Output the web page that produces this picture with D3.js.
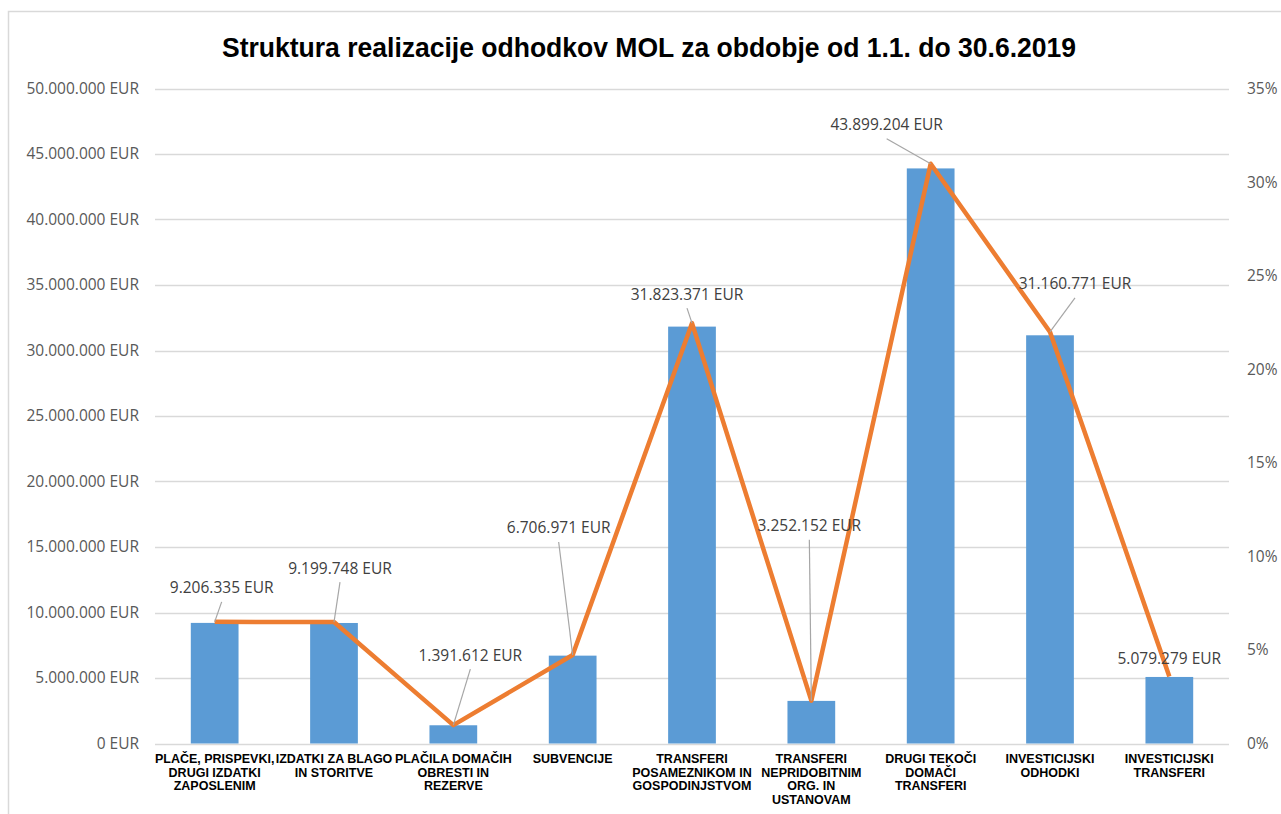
<!DOCTYPE html>
<html>
<head>
<meta charset="utf-8">
<script src="https://cdn.jsdelivr.net/npm/d3@7"></script>
<style>
  body { margin: 0; background: #ffffff; }
  svg { display: block; }
</style>
</head>
<body>
<svg id="chart"></svg>
<script>
let width = 1281;
let height = 814;

// data
let categories = [
  ["PLAČE, PRISPEVKI,", "DRUGI IZDATKI", "ZAPOSLENIM"],
  ["IZDATKI ZA BLAGO", "IN STORITVE"],
  ["PLAČILA DOMAČIH", "OBRESTI IN", "REZERVE"],
  ["SUBVENCIJE"],
  ["TRANSFERI", "POSAMEZNIKOM IN", "GOSPODINJSTVOM"],
  ["TRANSFERI", "NEPRIDOBITNIM", "ORG. IN", "USTANOVAM"],
  ["DRUGI TEKOČI", "DOMAČI", "TRANSFERI"],
  ["INVESTICIJSKI", "ODHODKI"],
  ["INVESTICIJSKI", "TRANSFERI"],
];
let amounts = [9206335, 9199748, 1391612, 6706971, 31823371, 3252152, 43899204, 31160771, 5079279];
let shares = [6.5, 6.49, 0.98, 4.73, 22.46, 2.29, 30.98, 21.99, 3.58];
let amountTicks = [0, 5e6, 10e6, 15e6, 20e6, 25e6, 30e6, 35e6, 40e6, 45e6, 50e6];
let shareTicks = [0, 5, 10, 15, 20, 25, 30, 35];
let title = "Struktura realizacije odhodkov MOL za obdobje od 1.1. do 30.6.2019";

// where each data label sits relative to its line point (px)
let labelShift = [
  [7, -34], [6, -54], [17, -70], [-14, -127], [-5, -29],
  [-2, -175], [-44, -39], [25, -48], [0, -18],
];

const blue = "#5B9BD5";
const orange = "#ED7D31";
const grid = "#d9d9d9";
const textColor = "#595959";
const bodyFont = "'Open Sans', 'Noto Sans', sans-serif";

let eur = d3.formatLocale({ decimal: ",", thousands: ".", grouping: [3], currency: ["", " EUR"] });
let fmt = (v) => eur.format(",d")(v) + " EUR";

let plot = { left: 155, right: 1229, top: 88.5, bottom: 743.5 };

let svg = d3.select("svg#chart").attr("width", width).attr("height", height);

let x = d3
  .scaleBand()
  .domain(d3.range(categories.length))
  .range([plot.left, plot.right])
  .paddingInner(0.6)
  .paddingOuter(0.3);
let yAmount = d3.scaleLinear().domain([0, 50e6]).range([plot.bottom, plot.top]);
let yShare = d3.scaleLinear().domain([0, 35]).range([plot.bottom, plot.top]);

// chart border
svg
  .append("rect")
  .attr("x", 8.5)
  .attr("y", 11.5)
  .attr("width", 1300)
  .attr("height", 820)
  .attr("fill", "none")
  .attr("stroke", grid)
  .attr("stroke-width", 1.5);

svg
  .append("text")
  .attr("x", 649)
  .attr("y", 57)
  .attr("text-anchor", "middle")
  .attr("textLength", 854)
  .attr("lengthAdjust", "spacingAndGlyphs")
  .style("font-family", "'Liberation Sans Narrow', 'Liberation Sans', sans-serif")
  .style("font-weight", "bold")
  .style("font-size", "28px")
  .attr("fill", "#000")
  .text(title);

// gridlines
svg
  .append("g")
  .selectAll("line")
  .data(amountTicks)
  .join("line")
  .attr("x1", plot.left)
  .attr("x2", plot.right)
  .attr("y1", (d) => Math.round(yAmount(d)) + 0.5)
  .attr("y2", (d) => Math.round(yAmount(d)) + 0.5)
  .attr("stroke", grid)
  .attr("stroke-width", 1.5);

// left axis
svg
  .append("g")
  .attr("transform", `translate(147, 0)`)
  .call(d3.axisLeft(yAmount).tickValues(amountTicks).tickSize(0).tickPadding(8).tickFormat(fmt))
  .call((g) => g.select(".domain").remove())
  .call((g) =>
    g.selectAll("text").attr("fill", textColor).style("font-family", bodyFont).style("font-size", "15.5px")
  );

// right axis
svg
  .append("g")
  .attr("transform", `translate(1239, 0)`)
  .call(d3.axisRight(yShare).tickValues(shareTicks).tickSize(0).tickPadding(8).tickFormat((d) => d + "%"))
  .call((g) => g.select(".domain").remove())
  .call((g) =>
    g.selectAll("text").attr("fill", textColor).style("font-family", bodyFont).style("font-size", "15.5px")
  );

// bars
svg
  .append("g")
  .selectAll("rect")
  .data(amounts)
  .join("rect")
  .attr("x", (d, i) => x(i))
  .attr("width", x.bandwidth())
  .attr("y", (d) => yAmount(d))
  .attr("height", (d) => yAmount(0) - yAmount(d))
  .attr("fill", blue);

// category labels
let cats = svg
  .append("g")
  .selectAll("text")
  .data(categories)
  .join("text")
  .attr("text-anchor", "middle")
  .attr("fill", "#000")
  .style("font-family", "'Liberation Sans', Arial, sans-serif")
  .style("font-weight", "bold")
  .style("font-size", "12.5px");

cats.each(function (lines, i) {
  let t = d3.select(this);
  lines.forEach((line, j) => {
    t.append("tspan")
      .attr("x", x(i) + x.bandwidth() / 2)
      .attr("y", 763 + j * 13.6)
      .text(line);
  });
});

// share line
let points = shares.map((s, i) => [x(i) + x.bandwidth() / 2, yShare(s)]);

svg
  .append("path")
  .datum(points)
  .attr("d", d3.line())
  .attr("fill", "none")
  .attr("stroke", orange)
  .attr("stroke-width", 4.5)
  .attr("stroke-linejoin", "round");

// leader lines and data labels
let labels = points.map((p, i) => ({
  px: p[0],
  py: p[1],
  lx: p[0] + labelShift[i][0],
  ly: p[1] + labelShift[i][1],
  text: fmt(amounts[i]),
}));

svg
  .append("g")
  .selectAll("line")
  .data(labels.filter((d) => d.py - d.ly > 25))
  .join("line")
  .attr("x1", (d) => d.lx)
  .attr("y1", (d) => d.ly + 14)
  .attr("x2", (d) => d.px)
  .attr("y2", (d) => d.py)
  .attr("stroke", "#a6a6a6")
  .attr("stroke-width", 1.2);

svg
  .append("g")
  .selectAll("text")
  .data(labels)
  .join("text")
  .attr("x", (d) => d.lx)
  .attr("y", (d) => d.ly + 5.5)
  .attr("text-anchor", "middle")
  .attr("fill", "#404040")
  .style("font-family", bodyFont)
  .style("font-size", "15.5px")
  .text((d) => d.text);
</script>
</body>
</html>
